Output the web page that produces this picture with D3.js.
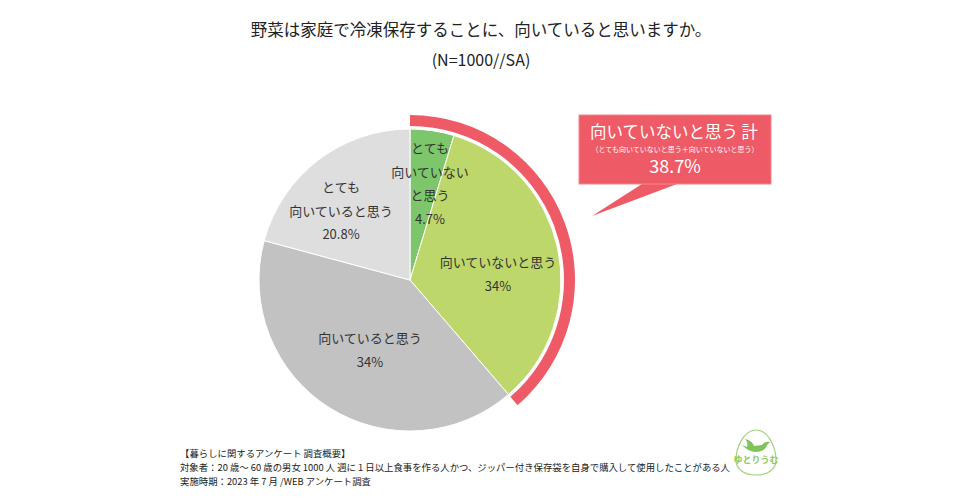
<!DOCTYPE html>
<html><head><meta charset="utf-8">
<script src="https://cdn.jsdelivr.net/npm/d3@7"></script>
<style>
body{margin:0;background:#fff;}
svg{font-family:"Noto Sans CJK JP","Noto Sans",sans-serif;}
</style></head>
<body><svg id="c" width="960" height="500"></svg>
<script>
const categories = ["とても向いていないと思う","向いていないと思う","向いていると思う","とても向いていると思う"];
const values = [4.7, 34.0, 40.5, 20.8];
const labelLines = [["とても","向いていない","と思う"],["向いていないと思う"],["向いていると思う"],["とても","向いていると思う"]];
const pctLabels = ["4.7%","34%","34%","20.8%"];
const colors = ["#7dc66b","#bed76b","#c2c2c2","#dedede"];
const totalLabel = "38.7%";

const svg = d3.select("#c");
const cx = 410, cy = 280, R = 151;

svg.append("text").attr("x",481).attr("y",36).attr("text-anchor","middle")
  .attr("font-size",16.5).attr("fill","#222").text("野菜は家庭で冷凍保存することに、向いていると思いますか。");
svg.append("text").attr("x",481).attr("y",66).attr("text-anchor","middle")
  .attr("font-size",16).attr("fill","#222").text("(N=1000//SA)");

const g = svg.append("g").attr("transform",`translate(${cx},${cy})`);
const pie = d3.pie().sort(null).value(d=>d);
const arcs = pie(values);
const arc = d3.arc().innerRadius(0).outerRadius(R);
g.selectAll("path.s").data(arcs).join("path").attr("class","s")
  .attr("d",arc).attr("fill",(d,i)=>colors[i]).attr("stroke","#fff").attr("stroke-width",1);

// red highlight arc for "not suitable" total
const notSum = values[0]+values[1];
const ringArc = d3.arc().innerRadius(154).outerRadius(165).startAngle(0).endAngle(2*Math.PI*notSum/d3.sum(values));
g.append("path").attr("d",ringArc()).attr("fill","#ee5a66");

// labels
const labelPos = [[20,-127],[88,-13],[-40,63],[-69,-88]];
arcs.forEach((a,i)=>{
  const lines = labelLines[i].concat([pctLabels[i]]);
  const [lx,ly] = labelPos[i];
  lines.forEach((t,j)=>{
    g.append("text").attr("x",lx).attr("y",ly+j*23.5).attr("text-anchor","middle")
      .attr("font-size",13).attr("fill","#333").text(t);
  });
});

// callout
const co = svg.append("g");
co.append("path").attr("d","M642,184 L677,184 L592,216 Z").attr("fill","#ee5a66");
co.append("rect").attr("x",579).attr("y",115).attr("width",192).attr("height",69).attr("fill","#ee5a66").attr("stroke","#f3868d").attr("stroke-width",1);
co.append("text").attr("x",674).attr("y",138).attr("text-anchor","middle").attr("font-size",16.5).attr("fill","#fff").text("向いていないと思う 計");
co.append("text").attr("x",675).attr("y",152).attr("text-anchor","middle").attr("font-size",7).attr("fill","#fff").text("（とても向いていないと思う＋向いていないと思う）");
co.append("text").attr("x",675).attr("y",173).attr("text-anchor","middle").attr("font-size",18).attr("fill","#fff").text(totalLabel);

// footer
const foot = ["【暮らしに関するアンケート 調査概要】",
 "対象者：20 歳～ 60 歳の男女 1000 人 週に 1 日以上食事を作る人かつ、ジッパー付き保存袋を自身で購入して使用したことがある人",
 "実施時期：2023 年 7 月 /WEB アンケート調査"];
foot.forEach((t,i)=>{
  const tx = svg.append("text").attr("x",180).attr("y",457+i*14).attr("font-size",9.4).attr("fill","#222").text(t);
  if(i===1) tx.attr("textLength",550).attr("lengthAdjust","spacingAndGlyphs");
});

// logo
const lg = svg.append("g").attr("transform","translate(756,453)");
lg.append("path").attr("d","M0,-23 C13,-23 20,-4 20,7 C20,17 11,22 0,22 C-11,22 -20,17 -20,7 C-20,-4 -13,-23 0,-23 Z")
  .attr("fill","none").attr("stroke","#a3d27a").attr("stroke-width",1.2);
lg.append("path").attr("d","M-14,-8 L-9,-6 C-8,-9 -9,-12 -11,-14 C-6,-13 -3,-10 -2,-7 L6,-8 C8,-11 11,-12 14,-11 L11,-8 C10,-4 6,-1 0,-1 C-5,-1 -10,-4 -14,-8 Z")
  .attr("fill","#7fc45a");
lg.append("text").attr("x",0).attr("y",10).attr("text-anchor","middle").attr("font-size",9).attr("font-weight","bold").attr("fill","#8cc95f").text("ゆとりうむ");
</script></body></html>
